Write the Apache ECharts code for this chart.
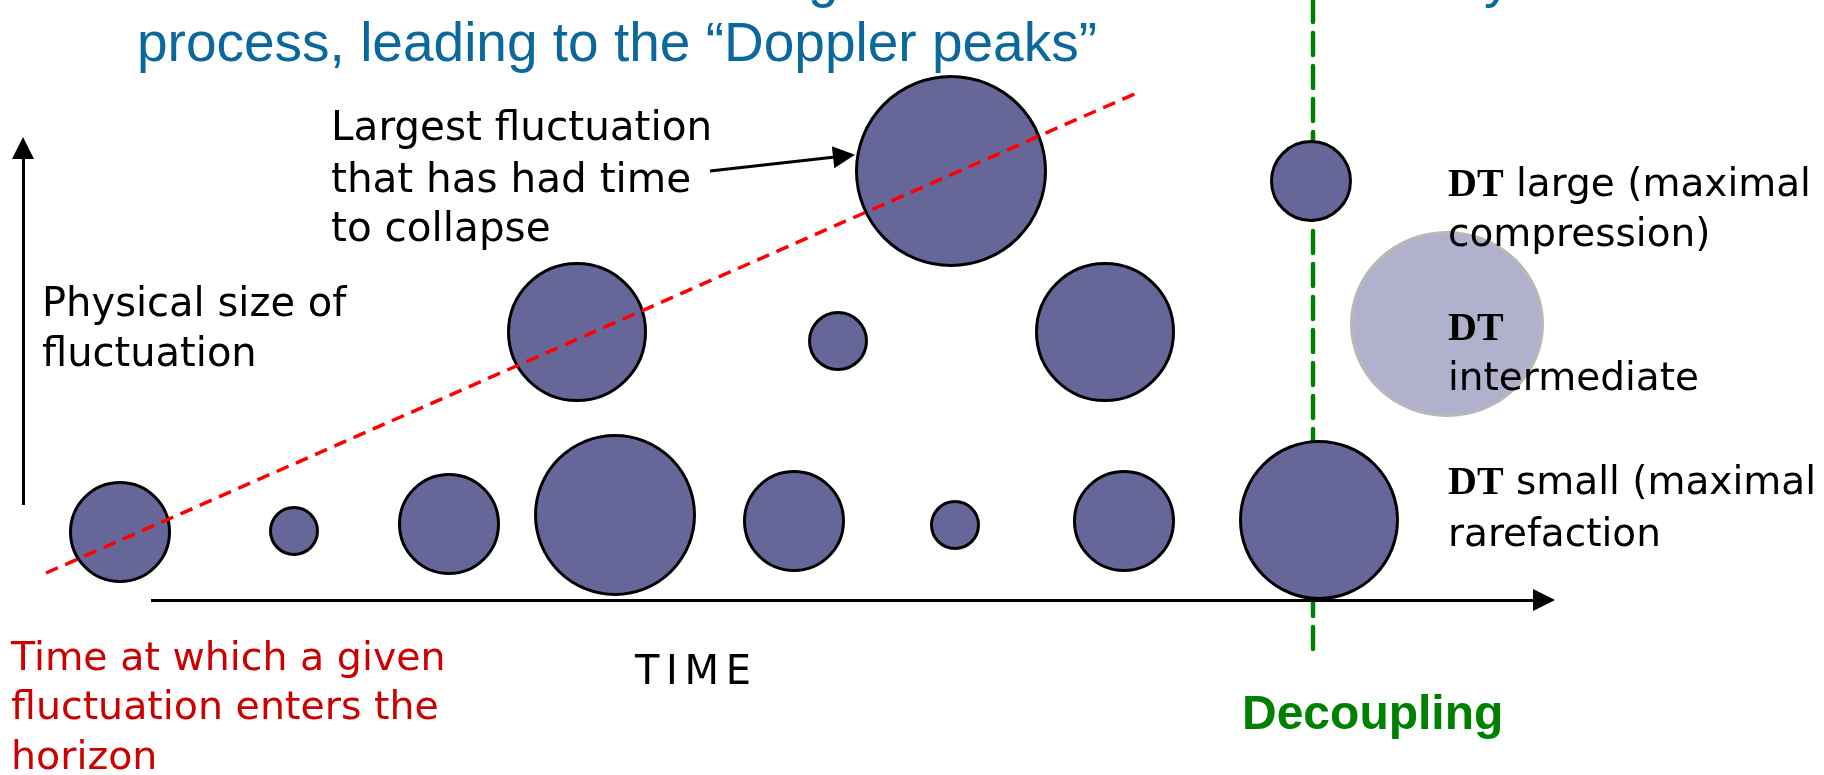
<!DOCTYPE html>
<html><head><meta charset="utf-8">
<script src="https://cdn.jsdelivr.net/npm/echarts@6/dist/echarts.min.js"></script>
<style>html,body{margin:0;padding:0;background:#fff;overflow:hidden}#c{width:1824px;height:775px}</style>
</head><body><div id="c"></div>
<script>
// ---- data (diagram units: x = time position, y = height on the page, r = radius) ----
const bottomRow = [[120,532,51],[294,531,25],[449,524,51],[615,515,81],[794,521,51],[955,525,25],[1124,521,51],[1319,520,80]];
const middleRow = [[577,332,70],[838,341,30],[1105,332,70]];
const topRow = [[951,171,96],[1311,181,41]];
const ghostCircle = [[1447,324,97,93]];
const horizonLine = [[46,573],[1139,92]];
const decouplingLine = [[1313,0],[1313,650]];
const timeAxis = [[151,600],[1544,600]];
const sizeAxis = [[23,505],[23,148]];
const pointerArrow = [[710,171],[844,156]];

const titleText = 'process, leading to the \u201cDoppler peaks\u201d';
const pointerText = ['Largest fluctuation','that has had time','to collapse'];
const sizeText = ['Physical size of','fluctuation'];
const horizonText = ['Time at which a given','fluctuation enters the','horizon'];
const timeText = 'T\u2006I\u2006M\u2006E';
const decouplingText = 'Decoupling';
const dtLines = ['{d|DT}{s| large (maximal}','{s|compression)}','{d|DT}','{s|intermediate}','{d|DT}{s| small (maximal}','{s|rarefaction}'];

const chart = echarts.init(document.getElementById('c'), null, {renderer:'canvas'});
const BLUE = '#0b689c', RED_T = '#cc0000', GREEN = '#008000';
const sans = '"DejaVu Sans"', arial = '"Liberation Sans", Arial';

function txt(text, x, y, font, fill, extra){
  return Object.assign({type:'text', x:x, y:y, z:100, silent:true,
    style:{text:text, font:font, fill:fill, align:'left', verticalAlign:'middle', textAlign:'left', textVerticalAlign:'middle'}}, extra||{});
}
const graphics = [];
graphics.push(txt(titleText, 137, 46, '55px ' + arial, BLUE));
graphics.push(txt('g', 808, -19, '55px ' + arial, BLUE));
graphics.push(txt('y', 1484, -19, '55px ' + arial, BLUE));
const ptrY = [129, 181, 230];
pointerText.forEach((t,i)=>graphics.push(txt(t, 331, ptrY[i], '40.5px ' + sans, '#000')));
const szY = [305.5, 356];
sizeText.forEach((t,i)=>graphics.push(txt(t, 42, szY[i], '40px ' + sans, '#000')));
const hzY = [660, 709, 758.5];
horizonText.forEach((t,i)=>graphics.push(txt(t, 11, hzY[i], '39.5px ' + sans, RED_T)));
graphics.push(txt(timeText, 635, 673.5, '40px ' + sans, '#000'));
graphics.push(txt(decouplingText, 1242, 716, 'bold 48px ' + arial, GREEN));
const dtY = [186, 236, 329.5, 380, 483.5, 536];
dtLines.forEach((t,i)=>{
  const g = txt(t, 1448, dtY[i], '39px ' + sans, '#000');
  g.style.rich = {
    d:{fontFamily:'"Liberation Serif"', fontWeight:'bold', fontSize:40, fill:'#000', color:'#000'},
    s:{fontFamily:'DejaVu Sans', fontSize:39, fill:'#000', color:'#000'}
  };
  graphics.push(g);
});

const circleStyle = {color:'#666699', borderColor:'#000', borderWidth:3, opacity:1};
function circleSeries(name, data){
  return {name:name, type:'scatter', data:data, z:3, silent:true,
    symbol:'circle', symbolSize:v=>2*v[2]-3, itemStyle:circleStyle};
}

chart.setOption({
  animation:false,
  backgroundColor:'#fff',
  grid:{left:0,right:0,top:0,bottom:0,containLabel:false},
  xAxis:{type:'value', min:0, max:1824, show:false},
  yAxis:{type:'value', min:0, max:775, inverse:true, show:false},
  series:[
    {name:'decoupling', type:'line', data:decouplingLine, z:1, silent:true, showSymbol:false, symbol:'none',
     lineStyle:{color:GREEN, width:4.5, type:[22,11], cap:'round'}},
    circleSeries('bottom', bottomRow),
    circleSeries('middle', middleRow),
    circleSeries('top', topRow),
    {name:'ghost', type:'scatter', data:ghostCircle, z:3, silent:true, symbol:'circle',
     symbolSize:v=>[2*v[2]-3, 2*v[3]-3],
     itemStyle:{color:'#b1b1cd', borderColor:'#b8b8b8', borderWidth:3, opacity:1}},
    {name:'horizon', type:'line', data:horizonLine, z:5, silent:true, showSymbol:false, symbol:'none',
     lineStyle:{color:'#ff0000', width:3.5, type:[13,8]}},
    {name:'arrows', type:'lines', coordinateSystem:'cartesian2d', z:6, silent:true,
     symbol:['none','triangle'], symbolSize:22,
     lineStyle:{color:'#000', width:3, opacity:1, curveness:0},
     itemStyle:{color:'#000'},
     data:[{coords:timeAxis},{coords:sizeAxis},{coords:pointerArrow}]}
  ],
  graphic:graphics
});
</script></body></html>
